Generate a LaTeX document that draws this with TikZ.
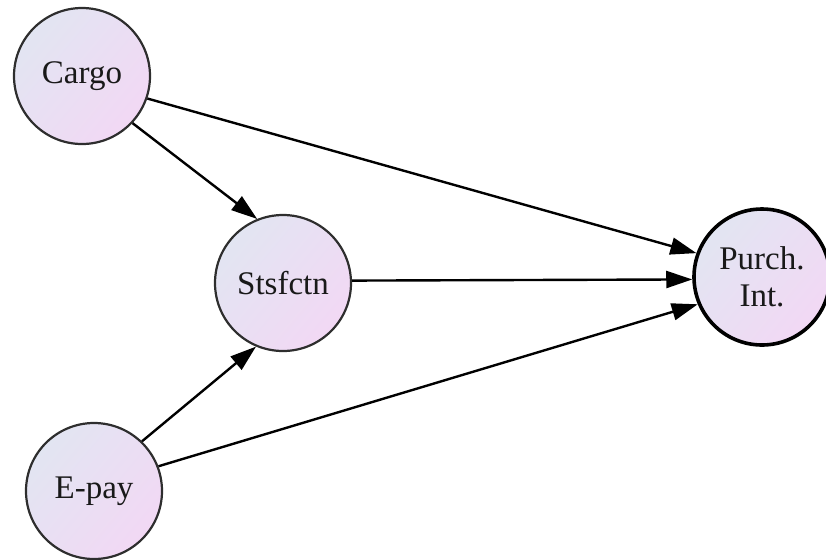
\documentclass[tikz,border=0pt]{standalone}
\usepackage{fontspec}
\setmainfont{Liberation Serif}
\usetikzlibrary{arrows.meta}
\definecolor{lavtop}{HTML}{E2E5F2}
\definecolor{lavbot}{HTML}{F2D8F4}
\definecolor{rim}{HTML}{2E2E2E}
\tikzset{
  construct/.style={circle, draw=rim, line width=1.1pt, minimum size=68pt, inner sep=0pt,
    top color=lavtop, bottom color=lavbot, shading angle=50,
    font=\fontsize{16.5}{18.5}\selectfont, text=black!90, align=center},
  outcome/.style={construct, draw=black, line width=1.8pt},
  path/.style={draw=black, line width=1.2pt, -{Triangle[length=13pt,width=8.5pt]}}
}
\begin{document}
\begin{tikzpicture}[x=0.5pt,y=-0.5pt]
  \useasboundingbox (0,0) rectangle (826,559);
  \node[construct] (cargo) at (82,76) {Cargo};
  \node[construct] (stsf) at (283,283) {Stsfctn};
  \node[construct] (epay) at (94,491) {E-pay};
  \node[outcome] (purch) at (762,277) {Purch.\\Int.};

  \draw[path] (cargo.-43) -- (stsf.112);
  \draw[path] (cargo.-19) -- (purch.160);
  \draw[path] (stsf.2) -- (purch.182);
  \draw[path] (epay.46) -- (stsf.247);
  \draw[path] (epay.21) -- (purch.203);
\end{tikzpicture}
\end{document}
